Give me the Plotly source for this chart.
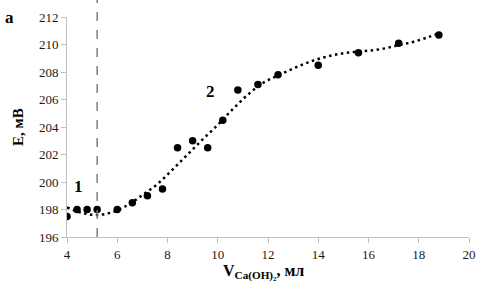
import plotly.graph_objects as go

# measured points
v_ml = [4.0, 4.4, 4.8, 5.2, 6.0, 6.6, 7.2, 7.8, 8.4, 9.0, 9.6, 10.2, 10.8, 11.6, 12.4, 14.0, 15.6, 17.2, 18.8]
e_mv = [197.5, 198.0, 198.0, 198.0, 198.0, 198.5, 199.0, 199.5, 202.5, 203.0, 202.5, 204.5, 206.7, 207.1, 207.8, 208.5, 209.4, 210.1, 210.7]

# trendline
trend_x = [4.0, 4.6, 5.2, 5.8, 6.4, 7.0, 7.6, 8.2, 8.8, 9.4, 10.0, 10.6, 11.2, 11.8, 12.4, 13.0, 13.6, 14.2, 14.8, 15.4, 16.0, 16.6, 17.2, 17.8, 18.4, 18.8]
trend_y = [198.15, 197.75, 197.6, 197.8, 198.3, 199.05, 199.85, 200.9, 202.0, 203.1, 204.15, 205.3, 206.35, 207.2, 207.75, 208.25, 208.7, 209.05, 209.3, 209.45, 209.55, 209.7, 209.95, 210.2, 210.55, 210.8]

equiv_x = 5.2
x_ticks = [4, 6, 8, 10, 12, 14, 16, 18, 20]
y_ticks = [196, 198, 200, 202, 204, 206, 208, 210, 212]

serif = "Liberation Serif, Times New Roman, serif"

fig = go.Figure()
fig.add_trace(go.Scatter(x=trend_x, y=trend_y, mode="lines",
                         line=dict(color="black", width=2.5, dash="2.5px,3.5px", shape="spline", smoothing=1.0),
                         hoverinfo="skip", showlegend=False))
fig.add_trace(go.Scatter(x=v_ml, y=e_mv, mode="markers",
                         marker=dict(color="black", size=7.5), showlegend=False))

fig.add_shape(type="line", x0=equiv_x, x1=equiv_x, xref="x", y0=0, y1=1.08, yref="paper",
              line=dict(color="#7f7f7f", width=1.5, dash="dash"))

fig.add_annotation(x=-0.142, y=1.0, xref="paper", yref="paper", xanchor="center", yanchor="middle",
                   text="<b>a</b>", showarrow=False, font=dict(family=serif, size=17, color="black"))
fig.add_annotation(x=4.45, y=199.7, text="<b>1</b>", showarrow=False,
                   font=dict(family=serif, size=17, color="black"))
fig.add_annotation(x=9.7, y=206.6, text="<b>2</b>", showarrow=False,
                   font=dict(family=serif, size=17, color="black"))
# axis titles
fig.add_annotation(x=-0.122, y=0.5, xref="paper", yref="paper", xanchor="center", yanchor="middle",
                   text="<b>E, мВ</b>", textangle=-90, showarrow=False,
                   font=dict(family=serif, size=15, color="black"))
fig.add_annotation(x=0.49, y=-0.16, xref="paper", yref="paper", xanchor="center", yanchor="middle",
                   text="<b>V<sub>Ca(OH)₂</sub>, мл</b>", showarrow=False,
                   font=dict(family=serif, size=16, color="black"))

fig.update_layout(
    width=491, height=294,
    margin=dict(l=67, r=22, t=17, b=57, autoexpand=False),
    paper_bgcolor="white", plot_bgcolor="white",
    font=dict(family=serif, size=13, color="#1a1a1a"),
)
fig.update_xaxes(range=[4, 20], tickvals=x_ticks, showgrid=False, zeroline=False,
                 showline=True, linecolor="#bfbfbf", linewidth=1,
                 ticks="outside", tickcolor="#bfbfbf", ticklen=5,
                 tickfont=dict(family=serif, size=13, color="#1a1a1a"))
fig.update_yaxes(range=[196, 212], tickvals=y_ticks, showgrid=False, zeroline=False,
                 showline=True, linecolor="#bfbfbf", linewidth=1,
                 ticks="outside", tickcolor="#bfbfbf", ticklen=5,
                 tickfont=dict(family=serif, size=13, color="#1a1a1a"))

fig.write_html("out.html", config={"displayModeBar": False},
               post_script="document.body.style.margin='0px';")
